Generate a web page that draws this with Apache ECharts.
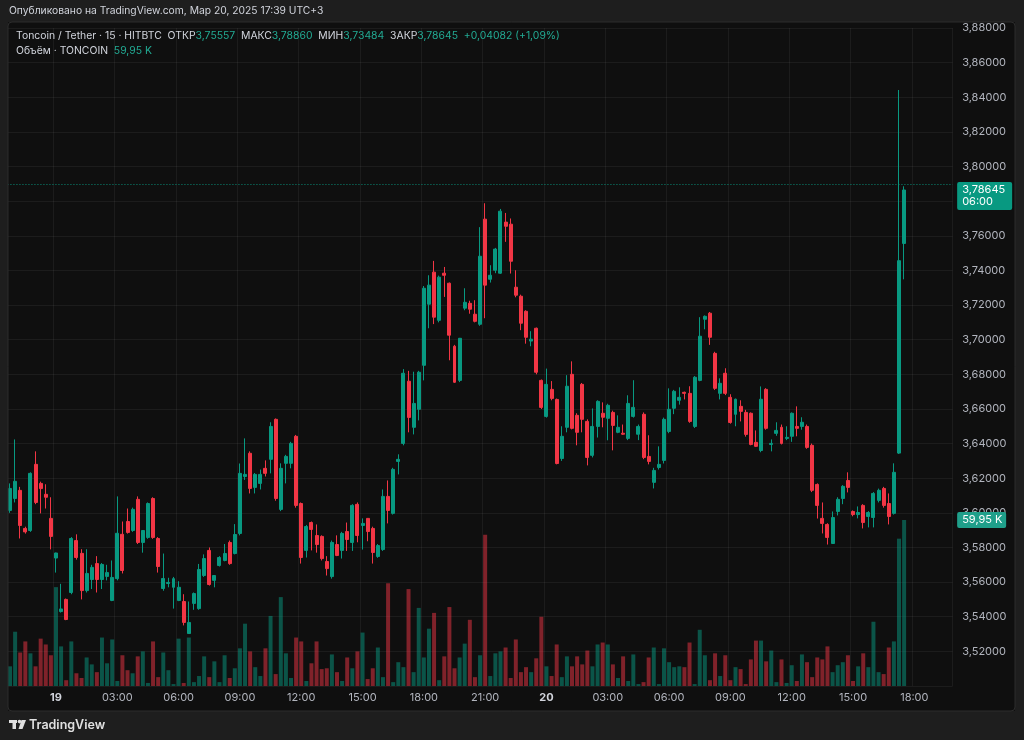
<!DOCTYPE html>
<html>
<head>
<meta charset="utf-8">
<script src="https://cdn.jsdelivr.net/npm/echarts@6/dist/echarts.min.js"></script>
<style>
html,body{margin:0;padding:0;background:#1e1e1e;}
#c{width:1024px;height:740px;}
</style>
</head>
<body>
<div id="c"></div>
<script>
// ---- data (15-min candles, 18 Mar 21:45 -> 20 Mar 17:30) ----
const opens = [
3.6014,3.6083,3.613,3.591,3.5898,3.628,3.617,3.6107,3.5968,3.5739,
3.543,3.55,3.554,3.584,3.5766,3.5551,3.5615,3.5707,3.5615,3.5633,
3.5494,3.562,3.5876,3.595,3.5898,3.6078,3.5829,3.5858,3.6083,3.5852,
3.5563,3.5592,3.557,3.5494,3.5488,3.5303,3.5477,3.5447,3.5638,3.5783,
3.561,3.5696,3.5725,3.5829,3.5765,3.5881,3.621,3.6344,3.6147,3.617,
3.6257,3.6309,3.654,3.602,3.6286,3.6286,3.6442,3.6054,3.5783,3.5944,
3.5869,3.5864,3.5719,3.5632,3.5817,3.5783,3.5892,3.5829,3.6049,3.5927,
3.5968,3.591,3.5748,3.5788,3.6095,3.5997,3.6297,3.6401,3.676,3.6494,
3.6598,3.6852,3.7205,3.739,3.7112,3.7384,3.7326,3.6962,3.6765,3.7182,
3.721,3.7147,3.7089,3.7696,3.7349,3.7401,3.7384,3.7679,3.7667,3.7303,
3.7251,3.7164,3.6992,3.7066,3.6765,3.6557,3.6713,3.6655,3.6314,3.6494,
3.68,3.6563,3.6742,3.6528,3.6332,3.6499,3.6575,3.6546,3.658,3.6465,
3.646,3.643,3.6557,3.6454,3.6569,3.6326,3.6176,3.6262,3.6303,3.647,
3.6604,3.665,3.6696,3.669,3.6499,3.6765,3.7118,3.7153,3.6921,3.669,
3.6806,3.6667,3.6569,3.6615,3.658,3.6575,3.6407,3.636,3.6713,3.6395,
3.6459,3.6494,3.643,3.6442,3.6499,3.6499,3.6499,3.639,3.6164,3.5968,
3.5933,3.5823,3.6008,3.6083,3.6187,3.6008,3.599,3.6043,3.5979,3.5973,
3.6072,3.6141,3.6054,3.5997,3.6345,3.75557];
const closes = [
3.6141,3.6182,3.5927,3.589,3.6228,3.606,3.614,3.609,3.5864,3.5768,
3.5445,3.5384,3.5852,3.5742,3.5551,3.565,3.5685,3.5615,3.5702,3.5655,
3.5627,3.5882,3.5667,3.5887,3.602,3.5829,3.5898,3.6054,3.5858,3.569,
3.5621,3.5598,3.562,3.557,3.5367,3.5367,3.5534,3.5673,3.5736,3.5586,
3.5638,3.5742,3.5765,3.5707,3.5875,3.6228,3.6222,3.6141,3.6222,3.6222,
3.6228,3.6499,3.6083,3.6257,3.6326,3.6401,3.6043,3.5742,3.5921,3.5904,
3.5817,3.5736,3.5678,3.5829,3.5754,3.5881,3.5846,3.6043,3.5869,3.5939,
3.5892,3.5771,3.5811,3.6095,3.6014,3.6251,3.6309,3.6806,3.6551,3.6632,
3.6812,3.7297,3.7315,3.713,3.7361,3.7372,3.7026,3.6754,3.7008,3.7216,
3.7176,3.7106,3.7482,3.7315,3.7372,3.7523,3.7742,3.7655,3.7453,3.7257,
3.7095,3.7014,3.7003,3.6812,3.6609,3.6742,3.6661,3.6285,3.6442,3.6731,
3.6488,3.6465,3.654,3.632,3.6499,3.6644,3.6552,3.6621,3.6505,3.6494,
3.6454,3.6632,3.6609,3.6499,3.632,3.6297,3.6245,3.628,3.654,3.6598,
3.6702,3.6667,3.669,3.6528,3.6783,3.702,3.7135,3.7014,3.6719,3.6748,
3.669,3.6522,3.6656,3.6586,3.6453,3.6395,3.6384,3.6656,3.6488,3.6401,
3.6476,3.6401,3.6436,3.6575,3.6488,3.6523,3.6378,3.613,3.6043,3.5939,
3.5858,3.5973,3.6078,3.6153,3.6147,3.599,3.6002,3.5944,3.6002,3.6112,
3.613,3.6043,3.5979,3.6234,3.74563,3.78645];
const lows = [
3.600,3.606,3.5852,3.588,3.589,3.605,3.5997,3.6025,3.5789,3.5655,
3.5424,3.538,3.553,3.573,3.55,3.554,3.556,3.554,3.556,3.561,
3.549,3.561,3.565,3.588,3.589,3.582,3.577,3.585,3.585,3.5655,
3.555,3.557,3.5447,3.549,3.535,3.5303,3.544,3.544,3.563,3.558,
3.557,3.569,3.572,3.570,3.576,3.587,3.619,3.6112,3.6112,3.6135,
3.621,3.6228,3.607,3.601,3.617,3.6257,3.603,3.5707,3.5742,3.5783,
3.577,3.5725,3.5638,3.562,3.575,3.5736,3.578,3.578,3.583,3.5788,
3.5836,3.5707,3.574,3.578,3.5939,3.599,3.6222,3.639,3.6465,3.6453,
3.6534,3.6765,3.7066,3.709,3.710,3.7247,3.6881,3.675,3.6755,3.717,
3.715,3.710,3.708,3.7124,3.733,3.7384,3.738,3.7565,3.7382,3.7245,
3.7055,3.6977,3.6962,3.680,3.660,3.655,3.665,3.628,3.630,3.6465,
3.6482,3.639,3.6465,3.6274,3.632,3.6435,3.6494,3.6419,3.6361,3.646,
3.645,3.642,3.655,3.642,3.631,3.628,3.6141,3.625,3.6285,3.646,
3.657,3.6625,3.6655,3.652,3.649,3.676,3.706,3.697,3.671,3.6655,
3.668,3.6515,3.65,3.6528,3.644,3.639,3.638,3.635,3.648,3.6355,
3.6445,3.6395,3.642,3.641,3.6442,3.648,3.637,3.612,3.5967,3.5881,
3.5817,3.582,3.5985,3.605,3.6118,3.598,3.5968,3.591,3.5916,3.5916,
3.606,3.603,3.5933,3.599,3.634,3.73484];
const highs = [
3.617,3.6424,3.615,3.592,3.6234,3.6355,3.618,3.6165,3.609,3.577,
3.559,3.5505,3.586,3.5876,3.579,3.579,3.570,3.575,3.571,3.570,
3.5725,3.6095,3.595,3.6025,3.603,3.6095,3.590,3.606,3.609,3.586,
3.5765,3.5625,3.563,3.5605,3.553,3.5488,3.554,3.5705,3.576,3.580,
3.564,3.575,3.582,3.584,3.5935,3.6285,3.643,3.6355,3.623,3.625,
3.6303,3.6523,3.6545,3.6286,3.6335,3.641,3.645,3.606,3.593,3.595,
3.5933,3.587,3.575,3.584,3.587,3.589,3.5944,3.605,3.606,3.5968,
3.597,3.592,3.582,3.6135,3.6187,3.626,3.6338,3.683,3.682,3.6815,
3.682,3.731,3.7372,3.7455,3.737,3.742,3.733,3.697,3.701,3.7297,
3.7225,3.7228,3.765,3.7788,3.743,3.753,3.7755,3.7732,3.770,3.7401,
3.726,3.717,3.7049,3.707,3.677,3.6833,3.6761,3.666,3.650,3.6795,
3.6875,3.6575,3.675,3.654,3.6603,3.665,3.6638,3.663,3.659,3.6563,
3.651,3.6679,3.6766,3.651,3.658,3.6448,3.626,3.6384,3.655,3.6719,
3.671,3.6725,3.670,3.6731,3.679,3.713,3.714,3.716,3.693,3.6777,
3.6835,3.6685,3.666,3.665,3.6595,3.658,3.6476,3.673,3.672,3.6424,
3.6523,3.651,3.65,3.658,3.6615,3.6552,3.651,3.640,3.617,3.606,
3.594,3.6008,3.609,3.616,3.6234,3.6014,3.6037,3.605,3.601,3.612,
3.614,3.615,3.6112,3.6286,3.8442,3.7886];
const volumes = [ // thousands of TONCOIN
7.1,19.6,12.1,16.1,11.8,7.1,17.1,15.0,11.1,35.7,
14.3,2.1,16.1,4.6,2.9,10.3,7.8,5.0,17.5,8.2,
16.8,1.8,11.1,5.7,4.6,10.7,12.5,1.1,16.1,3.2,
12.1,5.7,0.7,17.1,1.1,17.5,1.4,3.6,10.7,3.2,
8.9,1.4,11.1,2.9,6.4,13.6,22.5,12.5,6.8,3.6,
13.6,25.3,4.3,32.1,11.8,2.9,17.5,16.1,1.8,8.2,
16.1,6.1,6.4,11.4,5.0,1.8,10.3,6.4,12.5,19.3,
2.5,6.4,13.9,3.2,37.1,1.4,8.6,6.8,35.0,5.0,
28.2,10.3,20.7,26.4,2.1,10.7,28.5,6.4,10.3,15.3,
23.9,3.2,11.1,54.6,3.6,11.8,12.5,13.9,2.9,16.8,
5.0,6.8,5.0,10.0,25.0,7.1,3.6,15.0,3.2,10.7,
7.1,10.7,7.8,12.8,7.1,15.0,15.7,15.0,7.8,2.9,
10.7,1.8,11.4,0.7,1.4,10.3,13.9,0.7,13.6,8.6,
6.8,7.1,6.8,15.7,0.7,20.3,11.1,2.1,11.8,3.6,
11.1,2.1,6.8,6.1,0.7,9.6,16.4,16.4,8.9,12.8,
1.4,9.6,1.1,7.5,1.8,11.4,8.6,3.2,10.3,9.6,
14.3,5.0,7.5,8.6,11.1,1.8,7.1,11.8,6.8,23.2,
5.0,4.3,13.9,16.1,53.2,59.95];

// time slots: 18 Mar 21:45 ... 20 Mar 19:45 (last 9 empty)
const startDay = 18, startMinute = 21*60+45, slotCount = 185;
const categories = [];
for (let i = 0; i < slotCount; i++) {
  const t = startMinute + i*15;
  const d = startDay + Math.floor(t/1440);
  const m = t % 1440;
  categories.push(d + ' ' + String(Math.floor(m/60)).padStart(2,'0') + ':' + String(m%60).padStart(2,'0'));
}
const legendInfo = {pair:'Toncoin / Tether · 15 · HITBTC', vol:'Объём · TONCOIN', timer:'06:00'};
const headerText = 'Опубликовано на TradingView.com, Мар 20, 2025 17:39 UTC+3';

const UP = '#089981', DOWN = '#f23645';
const VUP = 'rgba(8,153,129,0.5)', VDOWN = 'rgba(242,54,69,0.5)';
const fmt = v => v.toFixed(5).replace('.', ',');
const isTick = (idx) => {
  const c = categories[idx]; const hm = c.split(' ')[1];
  const h = +hm.slice(0,2), mi = +hm.slice(3);
  return mi === 0 && h % 3 === 0;
};
const FONT = 'Inter, "Noto Sans", sans-serif';
const GRID = 'rgba(242,242,242,0.06)';

const n = opens.length;
const last = n - 1;
const candleData = opens.map((o,i)=>[o, closes[i], lows[i], highs[i]]);
const volData = volumes.map((v,i)=>({value:v, itemStyle:{color: closes[i] >= opens[i] ? VUP : VDOWN}}));
const chg = closes[last] - closes[last-1];
const pct = chg / closes[last-1] * 100;

const chart = echarts.init(document.getElementById('c'), null, {renderer:'canvas'});
const G = {left:7.45, top:28, width:945.2, height:658};
chart.setOption({
  backgroundColor:'#0f0f0f',
  animation:false,
  textStyle:{fontFamily:FONT},
  grid:[{left:G.left, top:G.top, width:G.width, height:G.height}],
  xAxis:[{
    type:'category', data:categories, boundaryGap:true,
    axisLine:{show:false}, axisTick:{show:false},
    axisLabel:{
      interval:(idx)=>isTick(idx), margin:6.5, color:'#b2b5be', fontSize:11, fontFamily:FONT,
      formatter:(v)=>{ const [d,hm] = v.split(' '); return hm === '00:00' ? '{b|'+d+'}' : hm; },
      rich:{b:{fontWeight:'bold', color:'#d1d4dc', fontSize:11, fontFamily:FONT}}
    },
    splitLine:{show:true, interval:(idx)=>isTick(idx), lineStyle:{color:GRID, width:1}}
  }],
  yAxis:[{
    type:'value', position:'right', min:3.50, max:3.88, interval:0.02, scale:true,
    axisLine:{show:false}, axisTick:{show:false},
    axisLabel:{margin:9.5, color:'#b2b5be', fontSize:11, fontFamily:FONT, showMinLabel:false, formatter:fmt},
    splitLine:{lineStyle:{color:GRID, width:1}}
  },{
    type:'value', min:0, max:237.6, show:false, splitLine:{show:false}
  }],
  series:[{
    type:'bar', name:'vol', yAxisIndex:1, data:volData, barWidth:'78%', z:1, silent:true
  },{
    type:'candlestick', name:'price', data:candleData, barWidth:'68%', z:3,
    itemStyle:{color:UP, color0:DOWN, borderColor:UP, borderColor0:DOWN, borderWidth:1},
    markLine:{
      symbol:['none','none'], silent:true, animation:false,
      label:{show:false},
      lineStyle:{type:[1,2], color:UP, width:1, opacity:0.9},
      data:[{yAxis:closes[last]}]
    }
  }]
});

// boxes on the price scale placed through the library's own scales
const priceY = chart.convertToPixel({yAxisIndex:0}, closes[last]);
const volY = chart.convertToPixel({yAxisIndex:1}, volumes[last]);
const scaleX = G.left + G.width + 4.5;
const LF = '10.4px ';
chart.setOption({
  graphic:[
    // outer frame strips
    {type:'rect', z:50, shape:{x:0,y:0,width:1024,height:22}, style:{fill:'#1e1e1e'}},
    {type:'rect', z:50, shape:{x:0,y:711,width:1024,height:29}, style:{fill:'#1e1e1e'}},
    {type:'rect', z:50, shape:{x:0,y:0,width:8,height:740}, style:{fill:'#1e1e1e'}},
    {type:'rect', z:50, shape:{x:1015,y:0,width:9,height:740}, style:{fill:'#1e1e1e'}},
    {type:'rect', z:51, shape:{x:8,y:22,width:1007,height:689,r:4}, style:{fill:null, stroke:'#2c2c2c', lineWidth:1}},
    // header
    {type:'text', z:60, x:9, y:11, style:{text:headerText, fill:'#d1d4dc', font:'10.3px '+FONT, verticalAlign:'middle'}},
    // legend
    {type:'text', z:60, x:16, y:36, style:{
      text:'{a|'+legendInfo.pair+'}  {a|ОТКР}{g|'+fmt(opens[last])+'}  {a|МАКС}{g|'+fmt(highs[last])+'}  {a|МИН}{g|'+fmt(lows[last])+'}  {a|ЗАКР}{g|'+fmt(closes[last])+'}  {g|'+(chg>=0?'+':'')+fmt(chg)+' ('+(pct>=0?'+':'')+pct.toFixed(2).replace('.',',')+'%)}',
      verticalAlign:'middle', font:LF+FONT,
      rich:{a:{fill:'#d1d4dc', fontSize:10.4, fontFamily:FONT}, g:{fill:'#22ab94', fontSize:10.4, fontFamily:FONT}}
    }},
    {type:'text', z:60, x:16, y:51, style:{
      text:'{a|'+legendInfo.vol+'}  {g|'+volumes[last].toFixed(2).replace('.',',')+' K}',
      verticalAlign:'middle', font:LF+FONT,
      rich:{a:{fill:'#d1d4dc', fontSize:10.4, fontFamily:FONT}, g:{fill:'#22ab94', fontSize:10.4, fontFamily:FONT}}
    }},
    // price box
    {type:'rect', z:60, shape:{x:scaleX, y:priceY-8, width:55, height:28, r:2}, style:{fill:UP}},
    {type:'text', z:61, x:scaleX+5, y:priceY, style:{text:fmt(closes[last]), fill:'#ffffff', font:'11px '+FONT, verticalAlign:'middle'}},
    {type:'text', z:61, x:scaleX+5, y:priceY+12, style:{text:legendInfo.timer, fill:'#ffffff', font:'11px '+FONT, verticalAlign:'middle'}},
    // volume box
    {type:'rect', z:60, shape:{x:scaleX, y:volY-8, width:49, height:16, r:2}, style:{fill:'#1f9f8a'}},
    {type:'text', z:61, x:scaleX+5, y:volY, style:{text:volumes[last].toFixed(2).replace('.',',')+' K', fill:'#ffffff', font:'11px '+FONT, verticalAlign:'middle'}},
    // TradingView logo
    {type:'rect', z:60, shape:{x:9,y:720,width:8,height:3}, style:{fill:'#e0e0e0'}},
    {type:'rect', z:60, shape:{x:12.5,y:720,width:3.5,height:9}, style:{fill:'#e0e0e0'}},
    {type:'circle', z:60, shape:{cx:19.5,cy:721.6,r:1.8}, style:{fill:'#e0e0e0'}},
    {type:'polygon', z:60, shape:{points:[[21.5,720],[26,720],[22.5,729],[18.5,729]]}, style:{fill:'#e0e0e0'}},
    {type:'text', z:60, x:29, y:725, style:{text:'TradingView', fill:'#e0e0e0', font:'600 12.5px '+FONT, verticalAlign:'middle'}}
  ]
});
</script>
</body>
</html>
